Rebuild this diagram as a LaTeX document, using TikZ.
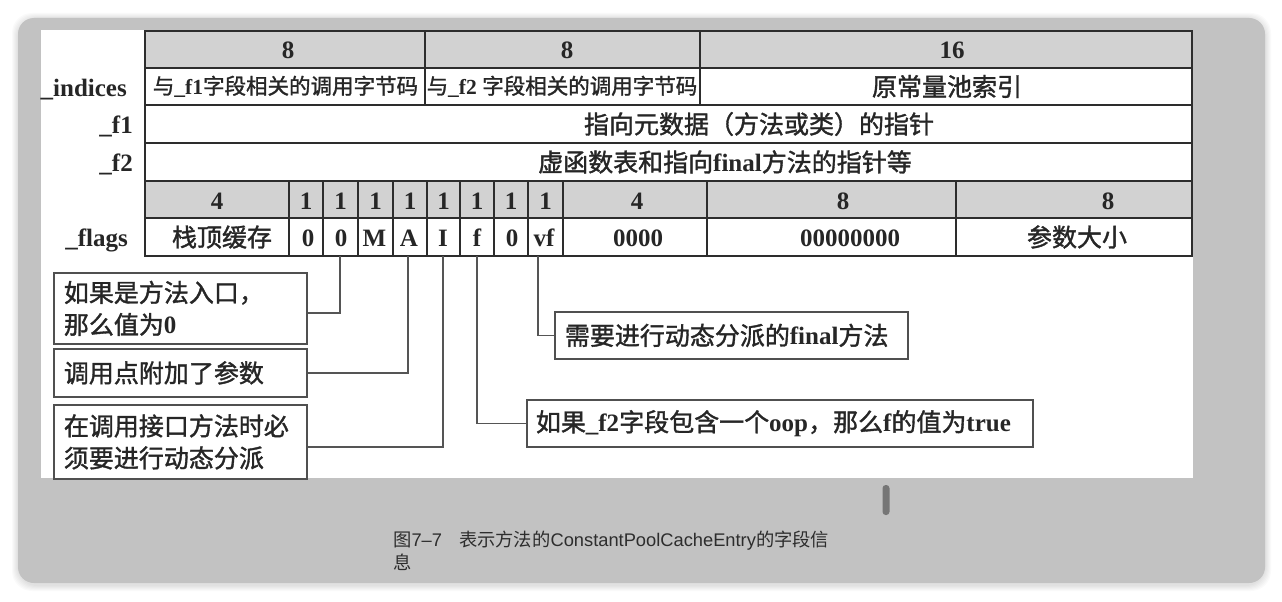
\documentclass[tikz,border=0pt]{standalone}
\usepackage{fontspec}
\setmainfont{Liberation Serif}
\newfontfamily\cjkfam{Noto Sans CJK SC}[FakeBold=1.4]
\newfontfamily\cjkcap{Noto Sans CJK SC}
\newcommand\cjk{\cjkfam\mdseries}
\newfontfamily\capsans{Liberation Sans}
\definecolor{bggray}{RGB}{194,194,194}
\definecolor{hdrgray}{RGB}{210,210,210}
\definecolor{tablecol}{RGB}{45,45,45}
\definecolor{boxcol}{RGB}{80,80,80}
\definecolor{conncol}{RGB}{85,85,85}
\definecolor{captcol}{RGB}{45,45,45}
\definecolor{scrollcol}{RGB}{118,118,118}
\begin{document}
\begin{tikzpicture}[x=1pt,y=-1pt,
  tline/.style={draw=tablecol,line width=1.6pt},
  cell/.style={anchor=base,inner sep=0pt,text=black!85,font=\bfseries\fontsize{25}{30}\selectfont},
  smallcell/.style={anchor=base,inner sep=0pt,text=black!85,font=\bfseries\fontsize{21.5}{26}\selectfont},
  rowlabel/.style={anchor=base east,inner sep=0pt,text=black!85,font=\bfseries\fontsize{25}{30}\selectfont},
  callout/.style={draw=boxcol,line width=1.8pt,fill=white,anchor=north west,align=left,
     inner ysep=0pt,text=black!85,font=\bfseries\fontsize{25}{32}\selectfont},
  conn/.style={draw=conncol,line width=1.5pt},
  capt/.style={anchor=base west,inner sep=0pt,text=captcol,font=\capsans\fontsize{18.3}{24}\selectfont}
]
\useasboundingbox (0,0) rectangle (1282,602);
\fill[white] (0,0) rectangle (1282,602);
% soft shadow
\foreach \i in {1,...,6}
  \fill[black,opacity=0.018,rounded corners=20pt] (18-\i,19-\i) rectangle (1265+\i,585+\i);
% gray frame and white diagram area
\fill[bggray,rounded corners=16pt] (18,18) rectangle (1265,583);
\fill[white] (41,30) rectangle (1193,478);

% header fills
\fill[hdrgray] (145,31) rectangle (1192,68);
\fill[hdrgray] (145,181) rectangle (1192,218);

% table lines
\draw[tline] (145,31) rectangle (1192,256);
\foreach \yy in {68,105,143,181,218}
  \draw[tline] (145,\yy) -- (1192,\yy);
\foreach \xx in {425,700}
  \draw[tline] (\xx,31) -- (\xx,105);
\foreach \xx in {289,323,358,393,427,460,494,528,563,707,956}
  \draw[tline] (\xx,181) -- (\xx,256);

% row labels
\node[rowlabel] (lind) at (127,96) {\_indices};
\node[rowlabel] (lf1) at (133,133.5) {\_f1};
\node[rowlabel] (lf2) at (133,171.5) {\_f2};
\node[rowlabel] (lflags) at (128,246.5) {\_flags};

% row 1
\node[cell] (h1) at (288,59) {8};
\node[cell] (h2) at (567,59) {8};
\node[cell] (h3) at (952,59) {16};
% row 2
\node[smallcell] (i1) at (285.5,94) {{\cjk 与}\_f1{\cjk 字段相关的调用字节码}};
\node[smallcell] (i2) at (562,94) {{\cjk 与}\_f2 {\cjk 字段相关的调用字节码}};
\node[cell] (i3) at (947,96) {\cjk 原常量池索引};
% row 3, 4
\node[cell] (f1t) at (759,133.5) {\cjk 指向元数据（方法或类）的指针};
\node[cell] (f2t) at (725,171.5) {{\cjk 虚函数表和指向}final{\cjk 方法的指针等}};
% row 5
\node[cell] (w1) at (217,209) {4};
\foreach \xx/\nm in {306/a,340.5/b,375.5/c,410/d,443.5/e,477/f,511/g,545.5/h}
  \node[cell] (w\nm) at (\xx,209) {1};
\node[cell] (w2) at (637,209) {4};
\node[cell] (w3) at (843,209) {8};
\node[cell] (w4) at (1108,209) {8};
% row 6
\node[cell] (v1) at (222,246.5) {\cjk 栈顶缓存};
\node[cell] (v0a) at (308,246.5) {0};
\node[cell] (v0b) at (341,246.5) {0};
\node[cell] (vM) at (374.5,246.5) {M};
\node[cell] (vA) at (409,246.5) {A};
\node[cell] (vI) at (443,246.5) {I};
\node[cell] (vf) at (477,246.5) {f};
\node[cell] (v0c) at (512,246.5) {0};
\node[cell] (vvf) at (544,246.5) {vf};
\node[cell] (v2) at (638,246.5) {0000};
\node[cell] (v3) at (850,246.5) {00000000};
\node[cell] (v4) at (1077,246.5) {\cjk 参数大小};

% callout boxes
\node[callout,inner xsep=10pt,text width=233pt,minimum height=71pt] (b1) at (53,272)
  {{\cjk 如果是方法入口，}\\{\cjk 那么值为}0};
\node[callout,inner xsep=10pt,text width=233pt,minimum height=48pt] (b2) at (53,348)
  {\cjk 调用点附加了参数};
\node[callout,inner xsep=10pt,text width=233pt,minimum height=74pt] (b3) at (53,404)
  {{\cjk 在调用接口方法时必}\\{\cjk 须要进行动态分派}};
\node[callout,inner xsep=10pt,text width=333pt,minimum height=47pt] (bvf) at (554,311)
  {{\cjk 需要进行动态分派的}final{\cjk 方法}};
\node[callout,inner xsep=9pt,text width=488pt,minimum height=47pt] (bf) at (526,399)
  {{\cjk 如果}\_f2{\cjk 字段包含一个}oop{\cjk ，那么}f{\cjk 的值为}true};

% connectors
\coordinate (p0) at (340,256);
\coordinate (pA) at (408,256);
\coordinate (pI) at (443,256);
\coordinate (pf) at (477,256);
\coordinate (pvf) at (538,256);
\draw[conn] (p0) |- ([yshift=-4.5pt]b1.east);
\draw[conn] (pA) |- (b2.east);
\draw[conn] (pI) |- ([yshift=-5pt]b3.east);
\draw[conn] (pf) |- (bf.west);
\draw[conn] (pvf) |- (bvf.west);

% scroll indicator
\fill[scrollcol,rounded corners=3.2pt] (882.5,485) rectangle (889.5,515);

% caption
\node[capt] (cap1) at (393,546) {{\cjkcap 图}7–7\hspace{17pt}{\cjkcap 表示方法的}ConstantPoolCacheEntry{\cjkcap 的字段信}};
\node[capt] (cap2) at (393,569) {\cjkcap 息};
\end{tikzpicture}
\end{document}
